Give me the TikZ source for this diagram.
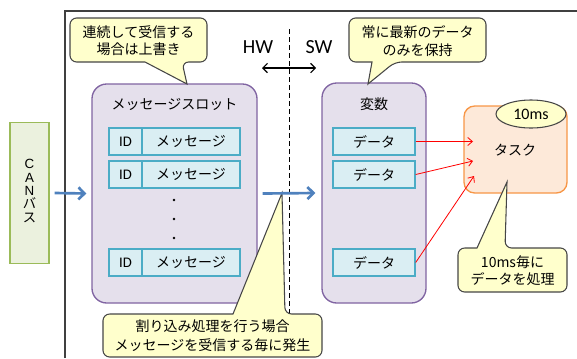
\documentclass[tikz,border=0pt]{standalone}
\usepackage{fontspec}
\setmainfont{Carlito}
\newfontfamily\jp{Noto Sans CJK JP}
\newfontfamily\arialish{Liberation Sans}
\usetikzlibrary{arrows.meta,shapes.geometric}
\definecolor{canfill}{RGB}{235,241,222}
\definecolor{canline}{RGB}{155,187,89}
\definecolor{slotfill}{RGB}{229,224,236}
\definecolor{slotline}{RGB}{128,100,162}
\definecolor{rowfill}{RGB}{218,238,243}
\definecolor{rowline}{RGB}{75,172,198}
\definecolor{taskfill}{RGB}{253,233,217}
\definecolor{taskline}{RGB}{247,150,70}
\definecolor{callfill}{RGB}{255,255,204}
\definecolor{callline}{RGB}{70,70,70}
\definecolor{bluearr}{RGB}{79,129,189}
\tikzset{
  jpfont/.style={font=\jp\fontsize{10.5}{13}\selectfont},
  container/.style={draw=slotline, fill=slotfill, line width=1pt, rounded corners=11pt},
  cell/.style={draw=rowline, fill=rowfill, line width=1pt, minimum height=27*0.75pt, inner sep=0pt},
  callout/.style={draw=callline, fill=callfill, line width=0.8pt},
  calltext/.style={jpfont, align=center, inner sep=0pt},
  bluearrow/.style={draw=bluearr, line width=2pt, -{Straight Barb[length=4.5pt,width=9pt,line width=2pt]}},
  redarrow/.style={draw=red, line width=0.6pt, -{Straight Barb[length=3.5pt,width=6pt]}},
}
\begin{document}
\begin{tikzpicture}[x=0.75pt,y=-0.75pt]
\useasboundingbox (0,0) rectangle (577,358);
% frame
\draw[line width=1.1pt, black!75] (65,358) -- (65,11) -- (577,11);

% CAN bus
\node[draw=canline, fill=canfill, line width=1pt, minimum width=39*0.75pt, minimum height=141*0.75pt, inner sep=0pt] (can) at (29.5,193) {};
\node[align=center, inner sep=0pt, font=\fontsize{10}{10}\selectfont] (cantext) at (29.5,191) {\arialish C\\\arialish A\\\arialish N\\\jp バ\\\jp ス};

% message slot container
\node[container, minimum width=165*0.75pt, minimum height=219*0.75pt] (slot) at (174.5,193.5) {};
\node[jpfont] (slottitle) at (174.5,104) {メッセージスロット};
\node[cell, minimum width=33*0.75pt, font=\fontsize{11}{13}\selectfont] (id1) at (125.5,141.5) {ID};
\node[cell, minimum width=98*0.75pt, jpfont] (m1) at (191,141.5) {メッセージ};
\node[cell, minimum width=33*0.75pt, font=\fontsize{11}{13}\selectfont] (id2) at (125.5,174.5) {ID};
\node[cell, minimum width=98*0.75pt, jpfont] (m2) at (191,174.5) {メッセージ};
\node[cell, minimum width=33*0.75pt, font=\fontsize{11}{13}\selectfont] (id3) at (125.5,262.5) {ID};
\node[cell, minimum width=98*0.75pt, jpfont] (m3) at (191,262.5) {メッセージ};
\foreach \yy in {200,219,238} \fill (174,\yy) circle (1.1pt);

% variables container
\node[container, minimum width=104*0.75pt, minimum height=220*0.75pt] (vars) at (374,193) {};
\node[jpfont] (varstitle) at (374,104) {変数};
\node[cell, minimum width=82*0.75pt, jpfont] (d1) at (374,141.5) {データ};
\node[cell, minimum width=82*0.75pt, jpfont] (d2) at (374,174.5) {データ};
\node[cell, minimum width=82*0.75pt, jpfont] (d3) at (374,262.5) {データ};

% task
\node[draw=taskline, fill=taskfill, line width=1pt, rounded corners=8pt, minimum width=103*0.75pt, minimum height=87*0.75pt] (task) at (515.5,149.5) {};
\node[jpfont] (tasktext) at (515,150) {タスク};
\node[ellipse, draw=callline, fill=callfill, line width=0.8pt, minimum width=70*0.75pt, minimum height=28*0.75pt, inner sep=0pt, font=\fontsize{12}{14}\selectfont] (period) at (531,114) {10ms};

% HW / SW
\node[font=\fontsize{15}{17}\selectfont] (hw) at (258,47) {HW};
\node[font=\fontsize{15}{17}\selectfont] (sw) at (319,47) {SW};
\coordinate (dtop) at (289,29);
\coordinate (dbot) at (289,314);
\draw[dashed, dash pattern=on 3.5pt off 2.5pt, line width=0.7pt] (dtop) -- (dbot);
\coordinate (hwl) at (262,68);
\coordinate (hwr) at (316,68);
\draw[line width=0.8pt, {Straight Barb[length=3.5pt,width=7pt]}-{Straight Barb[length=3.5pt,width=7pt]}] (hwl) -- (hwr);

% red arrows
\coordinate (t1) at (473,141.5);
\coordinate (t2) at (473,161);
\coordinate (t3) at (474,176);
\draw[redarrow] (d1.east) -- (t1);
\draw[redarrow] (d2.east) -- (t2);
\draw[redarrow] (d3.east) -- (t3);

% callouts
\draw[callout] (145,62) [rounded corners=5pt] -- (70,62) -- (70,18) -- (207,18) -- (207,62) -- (182,62) [sharp corners] -- (187,84) -- cycle;
\node[calltext] (c1) at (138.5,41) {連続して受信する\\場合は上書き};

\draw[callout] (372,62) [rounded corners=5pt] -- (349,62) -- (349,18) -- (486,18) -- (486,62) -- (395,62) [sharp corners] -- (368,84) -- cycle;
\node[calltext] (c2) at (417.5,41) {常に最新のデータ\\のみを保持};

\draw[callout] (233,314) [rounded corners=5pt] -- (103,314) -- (103,357) -- (322,357) -- (322,314) -- (285,314) [sharp corners] -- (282,193) -- cycle;
\node[calltext, font=\jp\fontsize{10.5}{14}\selectfont] (c3) at (212.5,336) {割り込み処理を行う場合\\メッセージを受信する毎に発生};

\draw[callout] (477,248) [rounded corners=5pt] -- (458,248) -- (458,292) -- (567,292) -- (567,248) -- (505,248) [sharp corners] -- (507,182) -- cycle;
\node[calltext] (c4) at (512.5,271) {10ms毎に\\データを処理};

% blue arrows
\draw[bluearrow] ([xshift=3.75pt]can.east) -- ([xshift=-3.75pt]slot.west);
\draw[bluearrow] ([xshift=3.75pt]slot.east) -- ([xshift=-4.5pt]vars.west);
\end{tikzpicture}
\end{document}
